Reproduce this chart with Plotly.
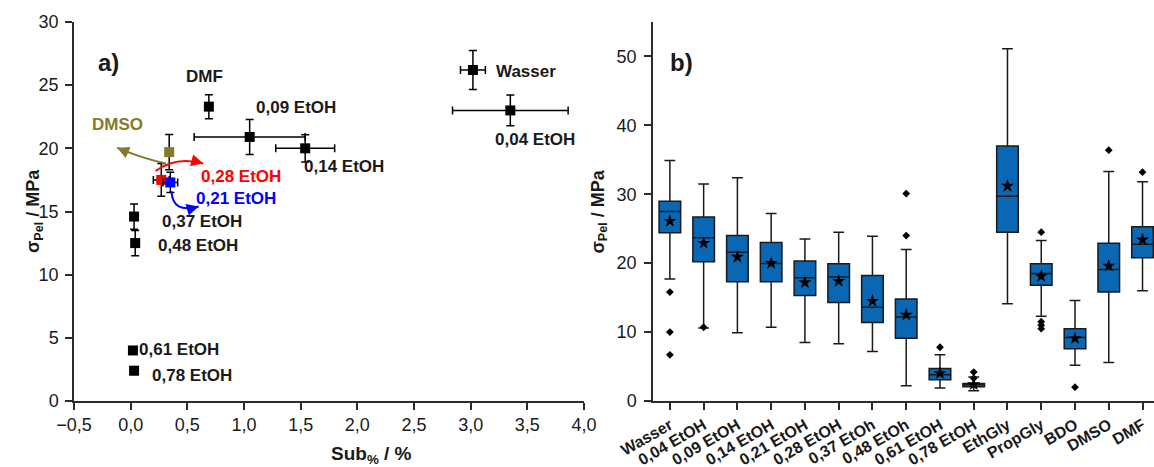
import math
import plotly.graph_objects as go

# ---------------- Panel a) data ----------------
a_names = ["DMF", "0,09 EtOH", "0,14 EtOH", "Wasser", "0,04 EtOH", "DMSO",
           "0,28 EtOH", "0,21 EtOH", "0,37 EtOH", "0,48 EtOH", "0,61 EtOH", "0,78 EtOH"]
a_x = [0.69, 1.05, 1.54, 3.02, 3.35, 0.34, 0.27, 0.35, 0.03, 0.04, 0.02, 0.03]
a_y = [23.3, 20.9, 20.0, 26.2, 23.0, 19.7, 17.5, 17.3, 14.6, 12.5, 4.0, 2.4]
a_xerr = [0.03, 0.49, 0.26, 0.11, 0.51, 0.03, 0.07, 0.065, 0.0, 0.0, 0.0, 0.0]
a_yerr = [0.95, 1.38, 1.08, 1.54, 1.22, 1.4, 1.3, 0.8, 1.0, 1.0, 0.3, 0.3]
a_colors = ["black", "black", "black", "black", "black", "#857a2a",
            "#ff0000", "#0000ff", "black", "black", "black", "black"]
# label anchor positions (data coords)
a_lab_x = [0.65, 1.46, 1.88, 3.49, 3.57, -0.12, 0.97, 0.93, 0.63, 0.59, 0.43, 0.54]
a_lab_y = [25.65, 23.2, 18.6, 26.05, 20.7, 21.9, 17.75, 16.0, 14.2, 12.3, 4.1, 2.0]

# ---------------- Panel b) data ----------------
b_cats = ["Wasser", "0,04 EtOH", "0,09 EtOH", "0,14 EtOH", "0,21 EtOH", "0,28 EtOH",
          "0,37 EtOh", "0,48 EtOh", "0,61 EtOH", "0,78 EtOH", "EthGly", "PropGly",
          "BDO", "DMSO", "DMF"]
b_low = [17.7, 10.6, 9.9, 10.7, 8.5, 8.3, 7.2, 2.2, 1.9, 1.5, 14.1, 12.3, 5.2, 5.6, 16.0]
b_q1 = [24.4, 20.2, 17.3, 17.3, 15.3, 14.3, 11.4, 9.1, 3.1, 2.05, 24.5, 16.8, 7.6, 15.8, 20.8]
b_med = [27.5, 23.7, 21.6, 19.95, 17.9, 18.0, 13.6, 12.2, 3.8, 2.35, 29.7, 18.5, 9.2, 19.1, 22.75]
b_q3 = [29.0, 26.7, 24.0, 23.0, 20.3, 19.9, 18.2, 14.8, 4.7, 2.55, 37.0, 19.9, 10.5, 22.9, 25.3]
b_high = [34.9, 31.5, 32.4, 27.2, 23.5, 24.5, 23.9, 22.0, 6.7, 3.5, 51.1, 23.3, 14.6, 33.3, 31.8]
b_mean = [26.1, 22.9, 20.9, 20.0, 17.2, 17.4, 14.5, 12.5, 4.0, 2.4, 31.2, 18.1, 9.1, 19.6, 23.4]
out_cat = ["Wasser", "Wasser", "Wasser", "0,04 EtOH", "0,48 EtOh", "0,48 EtOh",
           "0,61 EtOH", "0,78 EtOH", "0,78 EtOH", "PropGly", "PropGly", "PropGly",
           "PropGly", "BDO", "DMSO", "DMF"]
out_val = [15.8, 10.0, 6.7, 10.7, 24.0, 30.1, 7.8, 4.2, 3.3, 24.5, 11.5, 11.0,
           10.5, 2.0, 36.4, 33.2]

FONT = "Liberation Sans, Arial, sans-serif"
AXC = "#2b2b2b"
TXT = "#1a1a1a"
BOXC = "#0a67b3"
W, H = 1154, 467
MT, MB = 22, 66
PH = H - MT - MB
AX_L = (74, 584)
AX_R = (653, 1154)
XR_A = (-0.5, 4.0)
YR_A = (0, 30)

fig = go.Figure()

# panel a: one trace per point (colours, error bars)
for i in range(len(a_names)):
    fig.add_trace(go.Scatter(
        x=[a_x[i]], y=[a_y[i]], mode="markers",
        marker=dict(symbol="square", size=10, color=a_colors[i]),
        error_x=dict(type="data", array=[a_xerr[i]], color="black", thickness=1.5, width=4,
                     visible=a_xerr[i] > 0),
        error_y=dict(type="data", array=[a_yerr[i]], color="black", thickness=1.5, width=4),
        xaxis="x", yaxis="y", showlegend=False, hoverinfo="skip"))

for i in range(len(a_names)):
    fig.add_annotation(x=a_lab_x[i], y=a_lab_y[i], xref="x", yref="y",
                       text=f"<b>{a_names[i]}</b>", showarrow=False,
                       font=dict(family=FONT, size=17,
                                 color=a_colors[i] if a_colors[i] != "black" else TXT))

# curved arrows (DMSO, 0,28, 0,21)
pxu = (AX_L[1] - AX_L[0]) / (XR_A[1] - XR_A[0])
pyu = PH / (YR_A[1] - YR_A[0])
arrows = [
    ((0.31, 18.8), (0.10, 19.2), (-0.12, 20.05), "#857a2a"),
    ((0.22, 18.2), (0.40, 19.4), (0.64, 18.8), "#ff0000"),
    ((0.36, 16.6), (0.37, 14.8), (0.60, 15.4), "#0000ff"),
]
for (s, c, e, col) in arrows:
    fig.add_shape(type="path", xref="x", yref="y",
                  path=f"M {s[0]},{s[1]} Q {c[0]},{c[1]} {e[0]},{e[1]}",
                  line=dict(color=col, width=2))
    dxp = (e[0] - c[0]) * pxu
    dyp = -(e[1] - c[1]) * pyu
    n = math.hypot(dxp, dyp)
    fig.add_annotation(x=e[0], y=e[1], ax=-dxp / n * 10, ay=-dyp / n * 10,
                       xref="x", yref="y", text="",
                       showarrow=True, arrowhead=2, arrowsize=1.2, arrowwidth=2,
                       arrowcolor=col)

# panel b boxes
fig.add_trace(go.Box(
    x=b_cats, q1=b_q1, median=b_med, q3=b_q3, lowerfence=b_low, upperfence=b_high,
    fillcolor=BOXC, line=dict(color="#1a1a1a", width=1.5), width=0.64,
    whiskerwidth=0.5, boxpoints=False, xaxis="x2", yaxis="y2", showlegend=False,
    hoverinfo="skip"))
fig.add_trace(go.Scatter(
    x=out_cat, y=out_val, mode="markers",
    marker=dict(symbol="diamond", size=6, color="black"),
    xaxis="x2", yaxis="y2", showlegend=False, hoverinfo="skip"))
fig.add_trace(go.Scatter(
    x=b_cats, y=b_mean, mode="markers",
    marker=dict(symbol="star", size=10, color="black"),
    xaxis="x2", yaxis="y2", showlegend=False, hoverinfo="skip"))

tickfont = dict(family=FONT, size=18, color=TXT)
common = dict(showgrid=False, zeroline=False, showline=True, linecolor=AXC, linewidth=1.5,
              ticks="outside", ticklen=7, tickwidth=1.5, tickcolor=AXC, tickfont=tickfont,
              automargin=False)

fig.update_layout(
    width=W, height=H,
    margin=dict(l=0, r=0, t=MT, b=MB),
    paper_bgcolor="white", plot_bgcolor="white",
    separators=",.",
    font=dict(family=FONT),
    xaxis=dict(domain=[AX_L[0] / W, AX_L[1] / W], range=list(XR_A), dtick=0.5,
               tickformat=".1f", anchor="y", **common),
    yaxis=dict(domain=[0, 1], range=list(YR_A), dtick=5, anchor="x",
               ticklabelstandoff=3, **common),
    xaxis2=dict(domain=[AX_R[0] / W, 1.0], range=[-0.5, 14.34], type="category",
                categoryorder="array", categoryarray=b_cats, tickangle=-30,
                anchor="y2", **{**common, "tickfont": dict(family=FONT, size=16, color=TXT,
                                                           weight="bold")}),
    yaxis2=dict(domain=[0, 1], range=[0, 55], tickvals=[0, 10, 20, 30, 40, 50],
                anchor="x2", ticklabelstandoff=4, **common),
)

# axis titles and panel letters
fig.add_annotation(x=(AX_L[0] + AX_L[1]) / 2 / W, y=(PH + MT - 455) / PH,
                   xref="paper", yref="paper",
                   text="<b>Sub<sub>%</sub> / %</b>", showarrow=False, yanchor="middle",
                   font=dict(family=FONT, size=19, color=TXT))
fig.add_annotation(x=21 / W, y=0.5, xref="paper", yref="paper",
                   text="<b>σ<sub>Pel</sub> / MPa</b>", showarrow=False, textangle=-90,
                   font=dict(family=FONT, size=18, color=TXT))
fig.add_annotation(x=599 / W, y=0.5, xref="paper", yref="paper",
                   text="<b>σ<sub>Pel</sub> / MPa</b>", showarrow=False, textangle=-90,
                   font=dict(family=FONT, size=18, color=TXT))
fig.add_annotation(x=96 / W, y=(PH + MT - 47) / PH, xref="paper", yref="paper",
                   text="<b>a)</b>", showarrow=False,
                   font=dict(family=FONT, size=24, color=TXT))
fig.add_annotation(x=681 / W, y=(PH + MT - 47) / PH, xref="paper", yref="paper",
                   text="<b>b)</b>", showarrow=False,
                   font=dict(family=FONT, size=24, color=TXT))

fig.write_html("out.html")
